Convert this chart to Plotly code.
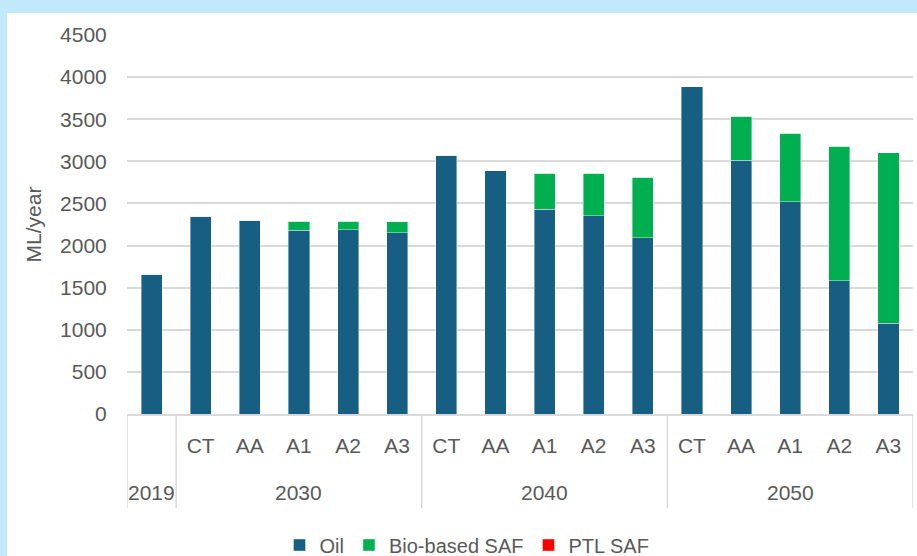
import plotly.graph_objects as go

years = ["2019", "2030", "2040", "2050"]
year_span = [(0, 0), (1, 5), (6, 10), (11, 15)]  # index ranges of categories per year
scenarios = ["", "CT", "AA", "A1", "A2", "A3",
             "CT", "AA", "A1", "A2", "A3",
             "CT", "AA", "A1", "A2", "A3"]
oil = [1660, 2348, 2300, 2183, 2185, 2155,
       3073, 2886, 2430, 2355, 2092,
       3886, 3010, 2520, 1585, 1077]
bio = [0, 0, 0, 105, 103, 130,
       0, 0, 427, 502, 722,
       0, 525, 816, 1594, 2023]
ptl = [0] * 16

OIL_C = "#175F82"
BIO_C = "#00B050"
PTL_C = "#FF0000"
TXT = "#595959"
GRID = "#D9D9D9"
FONT = "Liberation Sans"
FS = 21

xs = list(range(len(scenarios)))
fig = go.Figure()
line = dict(width=0.8, color="rgba(255,255,255,0.5)")
fig.add_trace(go.Bar(x=xs, y=oil, name="Oil", marker=dict(color=OIL_C, line=line)))
fig.add_trace(go.Bar(x=xs, y=bio, name="Bio-based SAF", marker=dict(color=BIO_C, line=line)))
fig.add_trace(go.Bar(x=xs, y=ptl, name="PTL SAF", marker=dict(color=PTL_C, line=line)))

plot_h = 379.0
plot_w = 786.0
shapes = [dict(type="rect", xref="paper", yref="paper", layer="below",
               x0=(7 - 127) / plot_w, x1=1.2, y0=-0.6, y1=(414 - 13) / plot_h,
               fillcolor="white", line=dict(width=0))]
bounds = [year_span[0][0] - 0.5] + [s[1] + 0.5 for s in year_span]
for b in bounds:
    shapes.append(dict(type="line", xref="x", yref="paper", x0=b, x1=b,
                       y0=0, y1=-94 / plot_h, line=dict(color=GRID, width=1.5)))
annotations = []
for yr, (a, b) in zip(years, year_span):
    annotations.append(dict(text=yr, x=(a + b) / 2, xref="x", y=-78 / plot_h, yref="paper",
                            xanchor="center", yanchor="middle", showarrow=False,
                            font=dict(size=FS, color=TXT, family=FONT)))

fig.update_layout(
    width=917, height=556,
    barmode="stack", bargap=0.57,
    paper_bgcolor="#C2E9FA", plot_bgcolor="white",
    margin=dict(l=127, r=4, t=35, b=142),
    font=dict(family=FONT, size=FS, color=TXT),
    showlegend=True,
    legend=dict(orientation="h", x=(467 - 127) / plot_w, xref="paper", xanchor="center",
                y=(556 - 545) / 556, yref="container", yanchor="middle",
                font=dict(size=20, color=TXT),
                bgcolor="rgba(0,0,0,0)", itemwidth=30, traceorder="normal"),
    shapes=shapes,
    annotations=annotations,
)
fig.update_yaxes(range=[0, 4500], dtick=500, showgrid=True, gridcolor=GRID, gridwidth=1.5,
                 zeroline=False, showline=False, ticks="outside", ticklen=15,
                 tickcolor="rgba(0,0,0,0)", tickfont=dict(size=FS, color=TXT),
                 title=dict(text="ML/year", font=dict(size=FS, color=TXT), standoff=12))
fig.update_xaxes(range=[-0.5, 15.5], tickvals=xs, ticktext=scenarios, showgrid=False,
                 zeroline=False, showline=True, linecolor=GRID, linewidth=1.5,
                 ticks="outside", ticklen=12, tickcolor="rgba(0,0,0,0)",
                 tickfont=dict(size=FS, color=TXT))

fig.write_html("out.html", config={"displayModeBar": False},
               post_script="document.body.style.margin='0';document.body.style.overflow='hidden';")
